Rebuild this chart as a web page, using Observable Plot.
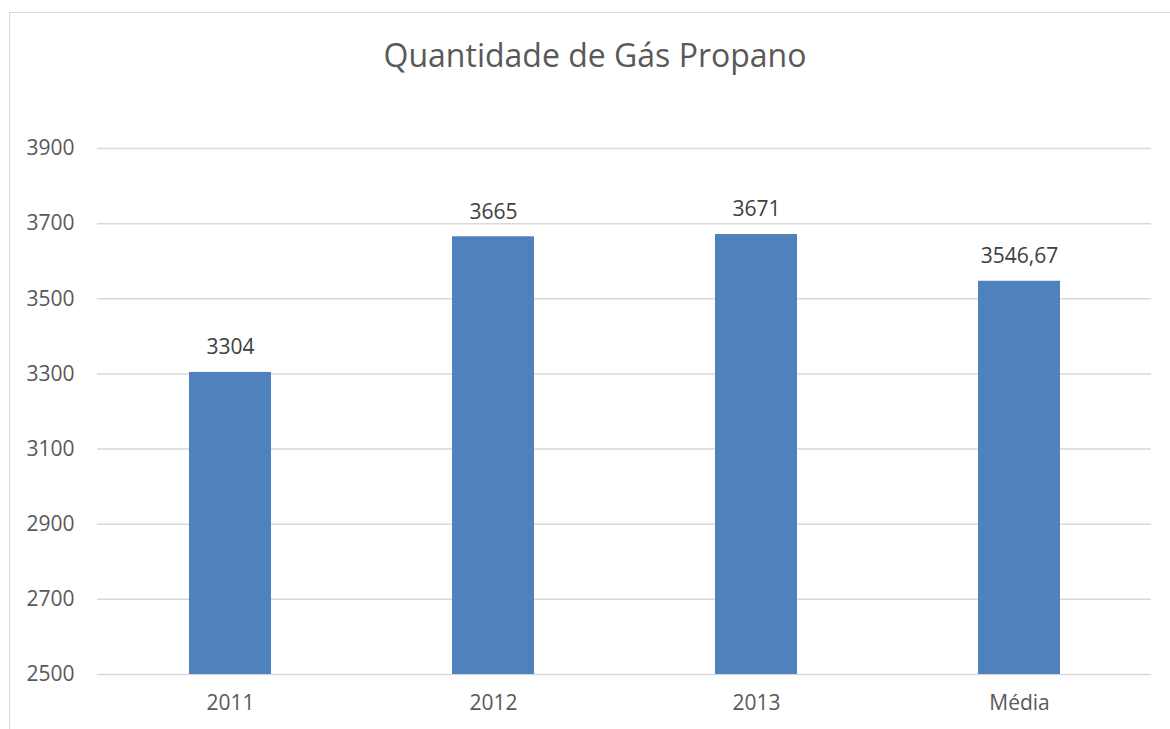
<!DOCTYPE html>
<html>
<head>
<meta charset="utf-8">
<script src="https://cdn.jsdelivr.net/npm/d3@7"></script>
<script src="https://cdn.jsdelivr.net/npm/@observablehq/plot@0.6"></script>
<style>
  html, body { margin: 0; padding: 0; background: #fff; }
  #wrap { position: relative; width: 1170px; height: 729px; overflow: hidden; font-family: "Open Sans", sans-serif; }
  #frame { position: absolute; left: 9px; top: 12px; width: 1300px; height: 900px; border: 1px solid #d9d9d9; box-sizing: border-box; }
  #title { position: absolute; left: 0; width: 1190px; top: 32px; text-align: center; font-size: 32px; color: #595959; line-height: 46px; }
  #chart { position: absolute; left: 0; top: 0; }
</style>
</head>
<body>
<div id="wrap">
  <div id="frame"></div>
  <div id="title">Quantidade de Gás Propano</div>
  <div id="chart"></div>
</div>
<script>
const categories = ["2011", "2012", "2013", "Média"];
const values = [3304, 3665, 3671, 3546.67];
const valueLabels = ["3304", "3665", "3671", "3546,67"];
const yTicks = [2500, 2700, 2900, 3100, 3300, 3500, 3700, 3900];
const baseline = 2500;

const data = categories.map((c, i) => ({cat: c, value: values[i], label: valueLabels[i]}));

const plot = Plot.plot({
  width: 1170,
  height: 729,
  marginLeft: 97,
  marginRight: 19,
  marginTop: 148,
  marginBottom: 55,
  style: {fontFamily: "Open Sans, sans-serif", fontSize: "21px", color: "#595959", background: "transparent"},
  x: {domain: categories, paddingInner: 0.69, paddingOuter: 0.345, label: null},
  y: {domain: [2500, 3900], label: null},
  marks: [
    Plot.ruleY(yTicks, {stroke: "#d9d9d9", strokeWidth: 1.5}),
    Plot.barY(data, {x: "cat", y1: () => baseline, y2: "value", fill: "#4F81BD"}),
    Plot.text(data, {x: "cat", y: "value", text: "label", dy: -25, fill: "#404040", fontSize: 21}),
    Plot.axisY(yTicks, {tickSize: 0, tickPadding: 23, fontSize: 21, fill: "#595959", label: null, tickFormat: d => String(d)}),
    Plot.axisX({tickSize: 0, tickPadding: 21, fontSize: 21, fill: "#595959", label: null})
  ]
});
document.getElementById("chart").appendChild(plot);
</script>
</body>
</html>
